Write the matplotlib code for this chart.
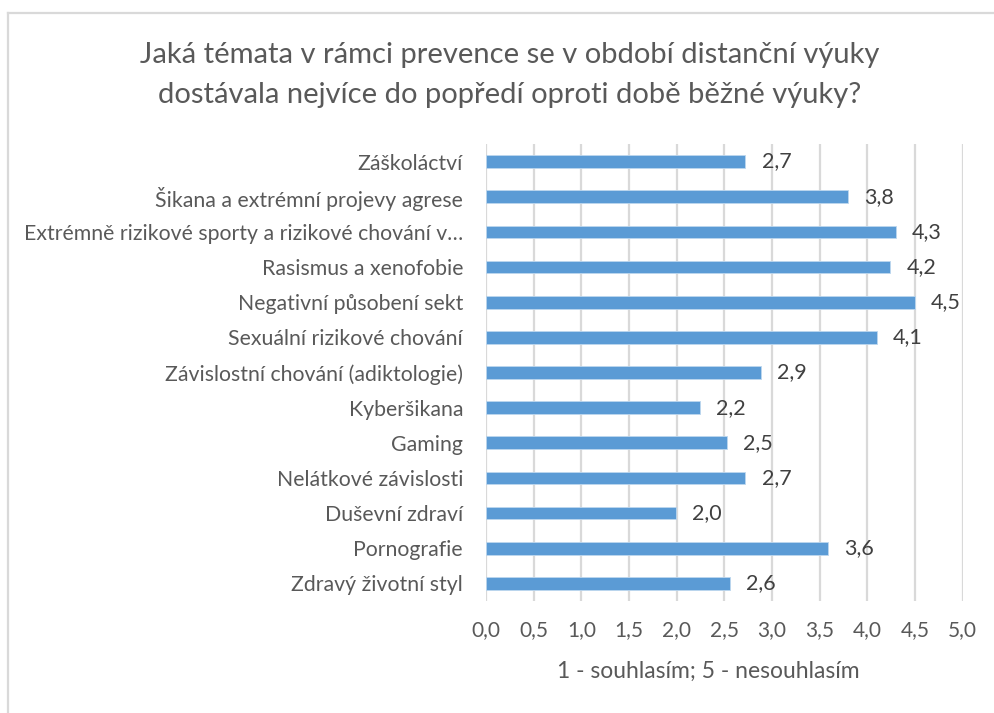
import matplotlib
matplotlib.use("Agg")
import matplotlib.pyplot as plt
from matplotlib.lines import Line2D

categories = [
    "Záškoláctví",
    "Šikana a extrémní projevy agrese",
    "Extrémně rizikové sporty a rizikové chování v…",
    "Rasismus a xenofobie",
    "Negativní působení sekt",
    "Sexuální rizikové chování",
    "Závislostní chování (adiktologie)",
    "Kyberšikana",
    "Gaming",
    "Nelátkové závislosti",
    "Duševní zdraví",
    "Pornografie",
    "Zdravý životní styl",
]
values = [2.72, 3.80, 4.30, 4.24, 4.50, 4.10, 2.88, 2.24, 2.53, 2.72, 1.99, 3.59, 2.56]
xticks = [0.0, 0.5, 1.0, 1.5, 2.0, 2.5, 3.0, 3.5, 4.0, 4.5, 5.0]
title = "Jaká témata v rámci prevence se v období distanční výuky\ndostávala nejvíce do popředí oproti době běžné výuky?"
xlabel = "1 - souhlasím; 5 - nesouhlasím"

FONT = ["Lato", "DejaVu Sans"]
plt.rcParams["font.family"] = FONT

fig = plt.figure(figsize=(9.94, 7.13), dpi=100)
ax = fig.add_axes([486/994, 1-601/713, (962.7-486)/994, (601-144)/713])

n = len(categories)
pos = list(range(n))
bars = ax.barh(pos, values, height=0.36, color="#5B9BD5", edgecolor="#BDD7EE", linewidth=0.6, zorder=3)
ax.set_ylim(n - 0.5, -0.5)
ax.set_xlim(0, 5.0)
ax.set_xticks(xticks)
ax.set_xticklabels([f"{t:.1f}".replace(".", ",") for t in xticks], fontsize=15, color="#595959")
ax.set_yticks(pos)
ax.set_yticklabels(categories, fontsize=15.3, color="#595959")
ax.tick_params(axis="both", length=0)
ax.tick_params(axis="y", pad=16.5)
ax.tick_params(axis="x", pad=14)
ax.grid(axis="x", color="#D9D9D9", linewidth=1.6, zorder=0)
for s in ax.spines.values():
    s.set_visible(False)

for b, v in zip(bars, values):
    ax.text(v + 0.17, b.get_y() + b.get_height()/2, f"{v:.1f}".replace(".", ","),
            va="center", ha="left", fontsize=15.5, color="#404040")

ax.set_xlabel(xlabel, fontsize=16.5, color="#595959", labelpad=14)
ax.xaxis.set_label_coords(0.466, -0.130)
fig.text(510/994, 1-75/713, title, ha="center", va="center", fontsize=21, color="#595959", linespacing=1.7)

fig.add_artist(Line2D([8/994, 1], [1-13/713, 1-13/713], color="#D9D9D9", linewidth=1.6, transform=fig.transFigure))
fig.add_artist(Line2D([8/994, 8/994], [0, 1-13/713], color="#D9D9D9", linewidth=1.6, transform=fig.transFigure))

fig.savefig("out.png", dpi=100, facecolor="white")
